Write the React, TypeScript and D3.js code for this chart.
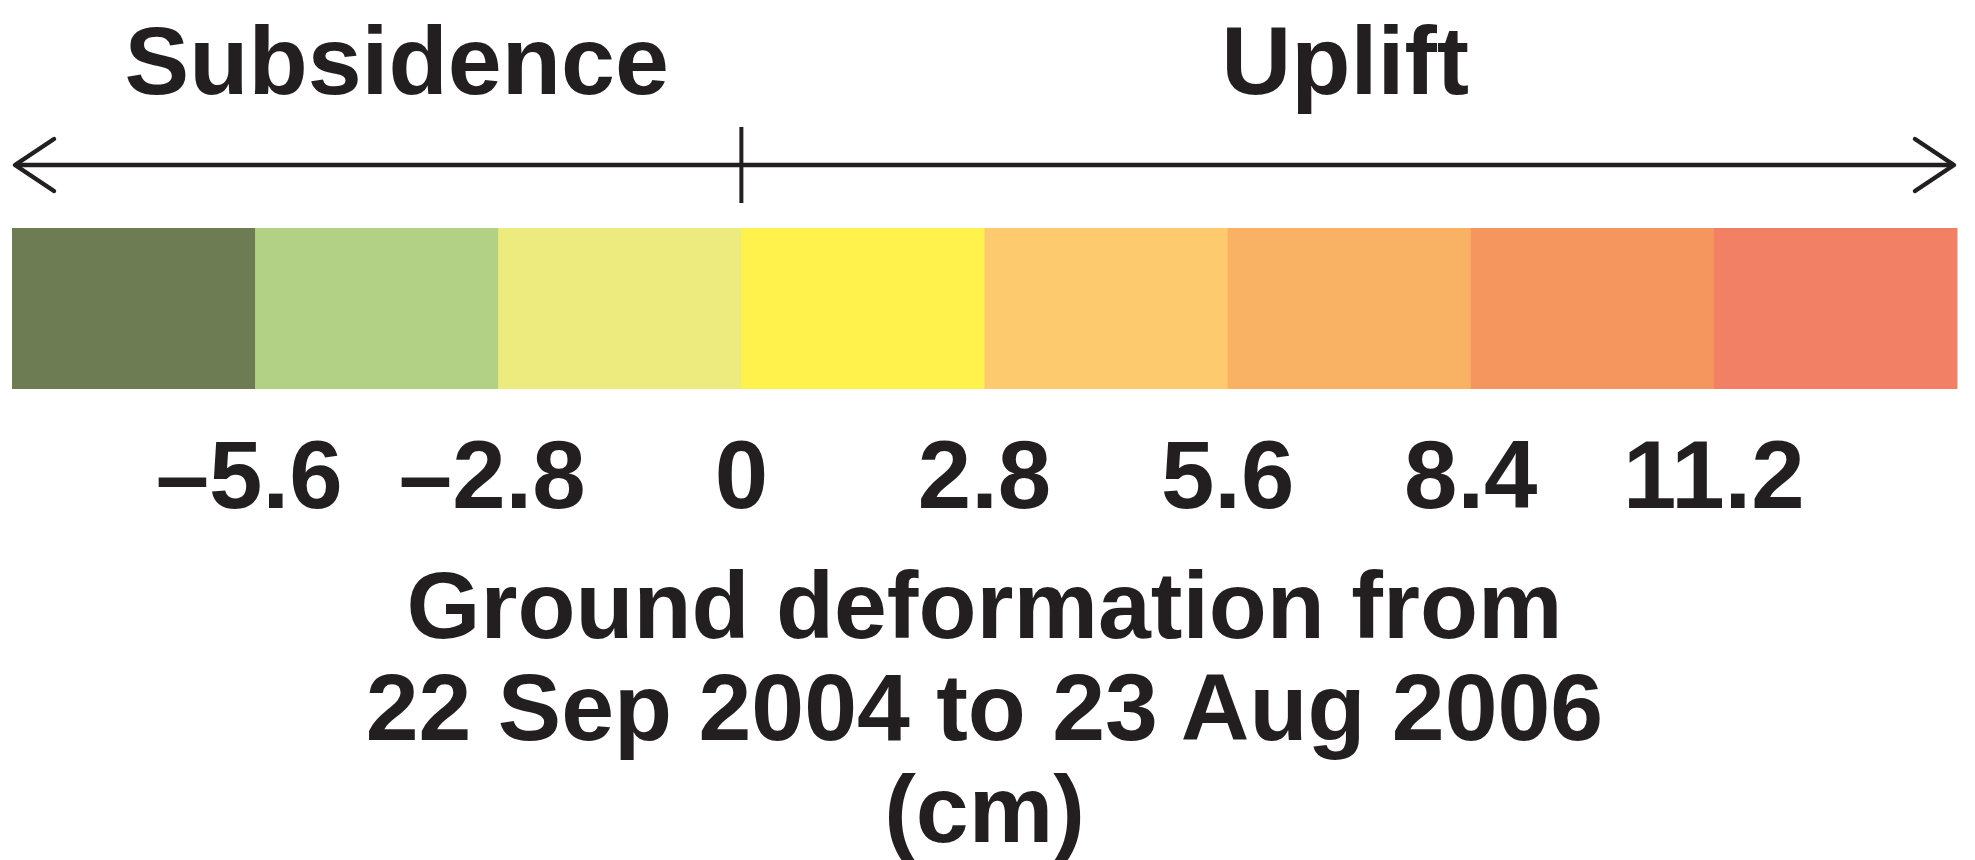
import React from "react";
import * as d3 from "d3";

const segmentStarts: number[] = [-8.4, -5.6, -2.8, 0, 2.8, 5.6, 8.4, 11.2];
const segmentEnds: number[] = [-5.6, -2.8, 0, 2.8, 5.6, 8.4, 11.2, 14];
const segmentColors: string[] = [
  "#6E7C53",
  "#B2D185",
  "#EDEB7D",
  "#FFF24D",
  "#FDCB6E",
  "#F9B264",
  "#F5965F",
  "#F18064",
];
const tickValues: number[] = [-5.6, -2.8, 0, 2.8, 5.6, 8.4, 11.2];
const tickLabels: string[] = ["\u20135.6", "\u20132.8", "0", "2.8", "5.6", "8.4", "11.2"];
const sideLabels: string[] = ["Subsidence", "Uplift"];
const titleLines: string[] = [
  "Ground deformation from",
  "22 Sep 2004 to 23 Aug 2006",
  "(cm)",
];

const W = 1975;
const H = 860;
const INK = "#231F20";
const FONT = "'Liberation Sans', Arial, Helvetica, sans-serif";

export default function App() {
  const x = d3.scaleLinear().domain([-8.4, 14]).range([12, 1957]);
  const barTop = 228;
  const barBottom = 389;
  const axisY = 165;
  const zeroX = x(0);
  const [d0, d1] = x.domain();

  const headLen = 42;
  const headHalf = 26;
  const leftHead = d3.line()([
    [x(d0) + headLen, axisY - headHalf],
    [x(d0) + 3, axisY],
    [x(d0) + headLen, axisY + headHalf],
  ]) as string;
  const rightHead = d3.line()([
    [x(d1) - headLen, axisY - headHalf],
    [x(d1) - 3, axisY],
    [x(d1) - headLen, axisY + headHalf],
  ]) as string;

  const sideCenters = [(x(d0) + zeroX) / 2 + 20, (zeroX + x(d1)) / 2 - 4];

  return (
    <svg
      width={W}
      height={H}
      viewBox={`0 0 ${W} ${H}`}
      style={{ position: "absolute", left: 0, top: 0, background: "#fff" }}
    >
      <rect x={0} y={0} width={W} height={H} fill="#fff" />
      {sideLabels.map((s, i) => (
        <text
          key={s}
          x={sideCenters[i]}
          y={94}
          textAnchor="middle"
          fontFamily={FONT}
          fontWeight="bold"
          fontSize={97}
          fill={INK}
        >
          {s}
        </text>
      ))}

      <line
        x1={x(d0) + 4}
        x2={x(d1) - 4}
        y1={axisY}
        y2={axisY}
        stroke={INK}
        strokeWidth={4.5}
      />
      <path d={leftHead} fill="none" stroke={INK} strokeWidth={4.5} strokeLinecap="round" strokeLinejoin="round" />
      <path d={rightHead} fill="none" stroke={INK} strokeWidth={4.5} strokeLinecap="round" strokeLinejoin="round" />
      <line x1={zeroX} x2={zeroX} y1={127} y2={203} stroke={INK} strokeWidth={4} />

      {segmentStarts.map((s, i) => (
        <rect
          key={i}
          x={x(s)}
          y={barTop}
          width={x(segmentEnds[i]) - x(s) + 0.5}
          height={barBottom - barTop}
          fill={segmentColors[i]}
        />
      ))}

      {tickValues.map((v, i) => (
        <text
          key={v}
          x={x(v) - (v < 0 ? 6 : 0)}
          y={508}
          textAnchor="middle"
          fontFamily={FONT}
          fontWeight="bold"
          fontSize={96}
          fill={INK}
        >
          {tickLabels[i]}
        </text>
      ))}

      {titleLines.map((t, i) => (
        <text
          key={t}
          x={(x(d0) + x(d1)) / 2}
          y={638 + i * 102}
          textAnchor="middle"
          fontFamily={FONT}
          fontWeight="bold"
          fontSize={95}
          fill={INK}
        >
          {t}
        </text>
      ))}
    </svg>
  );
}
